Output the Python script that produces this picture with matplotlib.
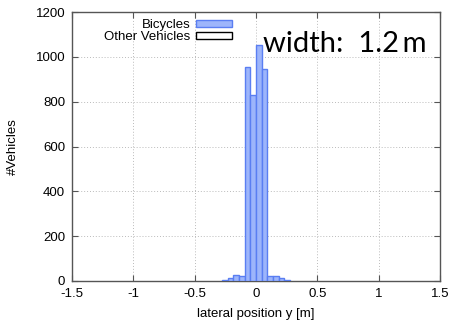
import numpy as np
import matplotlib
matplotlib.use("Agg")
import matplotlib.pyplot as plt
from matplotlib.patches import Patch

# histogram of lateral positions, bin width 1.2/26 m
bin_width = 1.2 / 26
bin_edges = np.arange(-6, 7) * bin_width
bicycles = [5, 15, 25, 22, 953, 828, 1052, 947, 23, 22, 11, 5]

x_ticks = [-1.5, -1, -0.5, 0, 0.5, 1, 1.5]
x_ticklabels = ["-1.5", "-1", "-0.5", "0", "0.5", "1", "1.5"]
y_ticks = [0, 200, 400, 600, 800, 1000, 1200]

plt.rcParams['font.family'] = ['Liberation Sans', 'DejaVu Sans']

fig = plt.figure(figsize=(4.53, 3.2), dpi=100)
ax = fig.add_axes([0.159, 0.122, 0.812, 0.84])

ax.bar(bin_edges[:-1], bicycles, width=bin_width, align='edge',
       facecolor='#9db5fb', edgecolor='#5a7ef2', linewidth=1.0, zorder=3)

ax.set_xlim(-1.5, 1.5)
ax.set_ylim(0, 1200)
ax.set_xticks(x_ticks)
ax.set_xticklabels(x_ticklabels)
ax.set_yticks(y_ticks)
ax.tick_params(direction='in', top=True, right=True, labelsize=9.5,
               length=4, width=0.8, color='#555555', pad=5)
ax.grid(True, linestyle=(0, (1, 2)), color='#bbbbbb', linewidth=0.7)
for s in ax.spines.values():
    s.set_color('#555555')
    s.set_linewidth(1.0)

ax.set_xlabel('lateral position y [m]', fontsize=9.5, labelpad=6)
ax.set_ylabel('#Vehicles', fontsize=9.5, labelpad=12)

handles = [Patch(facecolor='#9db5fb', edgecolor='#5a7ef2', label='Bicycles'),
           Patch(facecolor='white', edgecolor='black', label='Other Vehicles')]
leg = ax.legend(handles=handles, loc='upper left', bbox_to_anchor=(0.063, 1.008),
                markerfirst=False, frameon=False, fontsize=9.5,
                handlelength=2.7, handleheight=0.5, handletextpad=0.4,
                labelspacing=0.0, borderaxespad=0.3)
for t in leg.get_texts():
    t.set_ha('right')

ax.text(0.965, 0.852, 'width:  1.2\u2009m', transform=ax.transAxes,
        ha='right', va='baseline', fontsize=21,
        family=['Lato', 'DejaVu Sans'], zorder=5)

fig.savefig('out.png', dpi=100)
